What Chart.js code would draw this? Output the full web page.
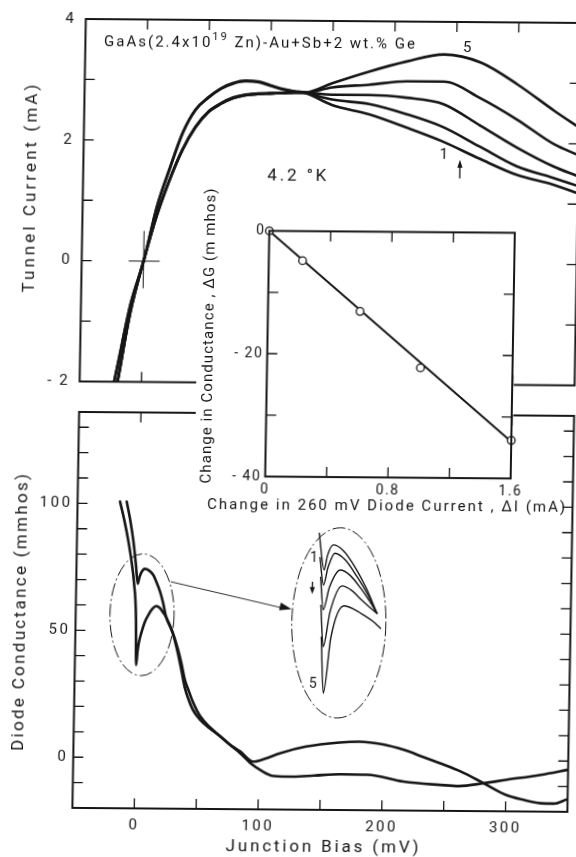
<!DOCTYPE html>
<html>
<head>
<meta charset="utf-8">
<script src="https://cdn.jsdelivr.net/npm/chart.js@4.4.1/dist/chart.umd.min.js"></script>
<style>
  html, body { margin: 0; padding: 0; background: #fff; overflow: hidden; }
  /* the scanned page is slightly skewed; reproduce it on the whole sheet */
  #sheet { position: relative; width: 576px; height: 857px;
           transform: matrix(1, 0.008, -0.017, 1, 0, 0); transform-origin: 72px 808px; }
  #sheet canvas { position: absolute; left: 0; top: 0; }
</style>
</head>
<body>
<div id="sheet">
  <canvas id="topChart" width="576" height="857"></canvas>
  <canvas id="bottomChart" width="576" height="857"></canvas>
  <canvas id="insetChart" width="576" height="857"></canvas>
  <canvas id="magChart" width="576" height="857"></canvas>
</div>
<script>
// ---- top panel: tunnel current (mA) vs junction bias (mV), curves 1..5
const tunnelBias = [-25, -20, -10, 0, 10, 20, 30, 40, 50, 60, 70, 80, 90, 100, 110, 120, 128, 150, 180, 210, 240, 270, 300, 330, 350];
const tunnel1 = [-2.3, -1.77, -0.72, 0, 0.9, 1.55, 2.14, 2.52, 2.72, 2.87, 2.96, 3.0, 2.99, 2.93, 2.87, 2.83, 2.81, 2.61, 2.46, 2.25, 2.02, 1.74, 1.48, 1.32, 1.18];
const tunnel2 = [-2.3, -1.77, -0.72, 0, 0.9, 1.54, 2.13, 2.51, 2.71, 2.86, 2.95, 2.99, 2.98, 2.92, 2.86, 2.83, 2.81, 2.70, 2.63, 2.47, 2.26, 1.94, 1.62, 1.43, 1.30];
const tunnel3 = [-2.6, -2.07, -0.85, 0, 0.76, 1.36, 1.86, 2.23, 2.48, 2.62, 2.72, 2.77, 2.79, 2.80, 2.80, 2.81, 2.81, 2.78, 2.78, 2.74, 2.64, 2.29, 1.93, 1.62, 1.46];
const tunnel4 = [-2.6, -2.07, -0.85, 0, 0.75, 1.35, 1.85, 2.22, 2.47, 2.61, 2.71, 2.76, 2.78, 2.79, 2.80, 2.81, 2.81, 2.90, 2.95, 3.01, 3.01, 2.74, 2.39, 1.99, 1.81];
const tunnel5 = [-2.6, -2.07, -0.85, 0, 0.75, 1.35, 1.85, 2.22, 2.47, 2.61, 2.71, 2.76, 2.78, 2.79, 2.80, 2.81, 2.81, 2.97, 3.17, 3.34, 3.46, 3.33, 2.97, 2.54, 2.27];

// ---- bottom panel: diode conductance (mmhos) vs junction bias (mV)
const bias1 = [-10.3, -7, -4.5, -2, -0.3, 1, 2.5, 5.3, 8.5, 12.2, 15, 17.8, 20.5, 23, 28.5, 33, 36, 39, 42, 46, 52, 60, 68, 76, 85, 95, 101, 112, 128, 145, 166, 188, 217, 247, 262, 282, 300, 328, 350];
const cond1 = [100.8, 93, 85.7, 76, 68.5, 71, 73, 74.4, 73.8, 72, 69, 65.5, 61, 55.7, 49.5, 43, 37.5, 31, 27, 22, 16.5, 12.2, 8.9, 5.5, 2.0, -2.5, -4.4, -6.8, -7, -6.5, -5.9, -6, -8.6, -9.8, -10.2, -9, -7.6, -5.5, -3.4];
const bias5 = [-15.7, -12, -8.6, -5.5, -3.3, -1.2, -0.5, 0.5, 1.5, 3.2, 6, 9, 12, 15, 18, 21, 23, 28.5, 33, 36, 39, 42, 46, 52, 60, 68, 76, 85, 95.5, 105, 117, 138, 165, 181, 200, 217, 232, 246, 263, 282, 300, 314, 328, 339, 349];
const cond5 = [100.8, 93.5, 85.7, 77, 68.8, 54.3, 36.5, 42, 45.5, 49, 53.5, 56.5, 58.7, 59.8, 59, 57, 55.5, 49.5, 41.5, 35, 28, 23.5, 19, 15.1, 11.7, 8.8, 5.6, 2.7, -1.2, 0, 2.2, 4.9, 6.6, 7, 6, 3.9, 1.3, -1.2, -4.4, -9, -13.5, -15.4, -16.7, -16.8, -15.2];

// ---- inset: change in conductance vs change in 260 mV diode current
const deltaCurrent = [0, 0.22, 0.6, 1.0, 1.6];
const deltaConductance = [0, -4.8, -13, -22.1, -33.8];
const fitCurrent = [0, 1.6];
const fitConductance = [0, -34];

// ---- magnified view of the dip near zero bias (curves 1..5)
const mag1Bias = [-2.1, 0.2, 1.5, 3.8, 8, 13, 18, 22.5];
const mag1Cond = [77.1, 67.9, 71.5, 74.2, 72.8, 68.7, 63.2, 57.1];
const mag2Bias = [-1.6, 0, 1.8, 4.6, 9, 14, 18.5, 22.5];
const mag2Cond = [71, 64.1, 68.5, 72.1, 70.4, 66.2, 61.8, 57.1];
const mag3Bias = [-1.2, 0.1, 2.5, 7, 11, 15.5, 19.5, 22.5];
const mag3Cond = [66, 57.9, 63.5, 67.9, 66.6, 63.4, 60, 57.1];
const mag4Bias = [-0.9, 0.3, 3, 7.8, 12, 16, 20, 22.5];
const mag4Cond = [59, 48.6, 57.5, 63.9, 62.7, 60.4, 58.3, 57.1];
const mag5Bias = [-0.5, 0.7, 3.5, 8.8, 13, 17, 21, 24.1];
const mag5Cond = [51, 36.9, 51, 58.9, 58, 56.6, 55, 53.3];

// ---- tick marks and labels
const biasTickMarks = [0, 50, 100, 150, 200, 250, 300];
const biasTickLabels = [0, 100, 200, 300];
const currentTickMarks = [-1, 0, 1, 2, 3];
const condTickMarks = [-10, 0, 10, 20, 30, 40, 50, 60, 70, 80, 90, 100, 110, 120, 130];
const insetCurrentMarks = [0.4, 0.8, 1.2];
const insetCondMarks = [-30, -20, -10];

const W = 576, H = 857;
const INK = '#161616';
const FONT = 'Roboto, "Open Sans", "DejaVu Sans", sans-serif';
const WEIGHT = '400';

Chart.defaults.font.family = FONT;
Chart.defaults.font.weight = WEIGHT;
Chart.defaults.color = INK;

const pts = (xs, ys) => xs.map((x, i) => ({ x, y: ys[i] }));
const minusLabel = (v) => (v < 0 ? "- " + -v : String(v));

function curve(label, data, width) {
    return {
        label: label,
        data: data,
        borderColor: INK,
        borderWidth: width,
        pointRadius: 0,
        fill: false,
        cubicInterpolationMode: "monotone",
        borderCapStyle: "round",
        borderJoinStyle: "round",
    };
}

// chart area in page pixels -> layout padding with fixed axis boxes
function boxLayout(area, yW, xH) {
    return {
        padding: {
            left: area.left - yW,
            top: area.top,
            right: W - area.right,
            bottom: H - area.bottom - xH,
        },
    };
}

function spacing(px) {
    return {
        id: "spacing",
        beforeUpdate(chart) {
            chart.ctx.letterSpacing = px + "px";
        },
    };
}

// lettering stretched to a given length, like the hand lettering of the figure
function spacedText(ctx, parts, cx, cy, length, rotate) {
    ctx.save();
    ctx.letterSpacing = "0px";
    let natural = 0, count = 0;
    parts.forEach((p) => {
        ctx.font = WEIGHT + " " + p.size + "px " + FONT;
        natural += ctx.measureText(p.text).width;
        count += p.text.length;
    });
    const gap = Math.max(0, (length - natural) / Math.max(1, count - 1));
    ctx.letterSpacing = gap + "px";
    ctx.translate(cx, cy);
    if (rotate) ctx.rotate(-Math.PI / 2);
    ctx.textAlign = "left";
    ctx.textBaseline = "middle";
    ctx.fillStyle = INK;
    let x = -length / 2;
    parts.forEach((p) => {
        ctx.font = WEIGHT + " " + p.size + "px " + FONT;
        ctx.fillText(p.text, x, p.dy || 0);
        x += ctx.measureText(p.text).width;
    });
    ctx.restore();
}

// closed frame with inward tick marks on all four sides
function framePlugin(cfg) {
    return {
        id: "frame",
        beforeDraw(chart) {
            if (!cfg.blank) return;
            const ctx = chart.ctx;
            ctx.save();
            ctx.fillStyle = "#fff";
            ctx.fillRect(cfg.blank.left, cfg.blank.top, cfg.blank.right - cfg.blank.left, cfg.blank.bottom - cfg.blank.top);
            ctx.restore();
        },
        afterDatasetsDraw(chart) {
            const { ctx, chartArea: a, scales } = chart;
            ctx.save();
            ctx.strokeStyle = INK;
            ctx.lineWidth = 1.3;
            ctx.beginPath();
            cfg.xTicks.forEach((v) => {
                const p = scales.x.getPixelForValue(v);
                ctx.moveTo(p, a.top);
                ctx.lineTo(p, a.top + cfg.len);
                ctx.moveTo(p, a.bottom);
                ctx.lineTo(p, a.bottom - cfg.len);
            });
            cfg.yTicks.forEach((v) => {
                const p = scales.y.getPixelForValue(v);
                ctx.moveTo(a.left, p);
                ctx.lineTo(a.left + cfg.len, p);
                ctx.moveTo(a.right, p);
                ctx.lineTo(a.right - cfg.len, p);
            });
            ctx.stroke();
            ctx.lineWidth = 2;
            ctx.strokeRect(a.left, a.top, a.right - a.left, a.bottom - a.top);
            ctx.restore();
            (cfg.titles || []).forEach((t) => spacedText(ctx, t.parts, t.x, t.y, t.length, t.rotate));
        },
    };
}

function arrowHead(ctx, x1, y1, x2, y2, len, half) {
    const ang = Math.atan2(y2 - y1, x2 - x1);
    ctx.beginPath();
    ctx.moveTo(x2, y2);
    ctx.lineTo(x2 - len * Math.cos(ang) + half * Math.sin(ang), y2 - len * Math.sin(ang) - half * Math.cos(ang));
    ctx.lineTo(x2 - len * Math.cos(ang) - half * Math.sin(ang), y2 - len * Math.sin(ang) + half * Math.cos(ang));
    ctx.closePath();
    ctx.fill();
}

function dashedEllipse(ctx, cx, cy, rx, ry) {
    ctx.save();
    ctx.lineWidth = 1;
    ctx.setLineDash([13, 3, 2, 3]);
    ctx.beginPath();
    ctx.ellipse(cx, cy, rx, ry, 0, 0, Math.PI * 2);
    ctx.stroke();
    ctx.restore();
}

const topNotes = {
    id: "topNotes",
    afterDatasetsDraw(chart) {
        const { ctx, scales: { x, y } } = chart;
        const px = (v) => x.getPixelForValue(v);
        const py = (v) => y.getPixelForValue(v);
        ctx.save();
        ctx.fillStyle = INK;
        ctx.strokeStyle = INK;

        // cross at the origin
        ctx.lineWidth = 1;
        ctx.beginPath();
        ctx.moveTo(px(-12), py(0));
        ctx.lineTo(px(13), py(0));
        ctx.moveTo(px(0), py(0.5));
        ctx.lineTo(px(0), py(-0.45));
        ctx.stroke();

        ctx.font = WEIGHT + " 15px " + FONT;
        ctx.textAlign = "center";
        ctx.textBaseline = "middle";
        ctx.fillText("5", px(259.4), py(3.57));
        ctx.fillText("1", px(242), py(1.79));

        // arrow under curve 1
        ctx.lineWidth = 1.3;
        ctx.beginPath();
        ctx.moveTo(px(254.3), py(1.41));
        ctx.lineTo(px(254.3), py(1.66));
        ctx.stroke();
        arrowHead(ctx, px(254.3), py(1.41), px(254.3), py(1.72), 8, 2.6);
        ctx.restore();

        // sample description with superscript, and temperature
        spacedText(ctx, [
            { text: "GaAs(2.4x10", size: 15 },
            { text: "19", size: 11, dy: -6 },
            { text: " Zn)-Au+Sb+2 wt.% Ge", size: 15 },
        ], 91 + 311 / 2, 42.5, 311, false);
        spacedText(ctx, [{ text: "4.2 °K", size: 17 }], 286, 175, 59, false);
    },
};

const bottomNotes = {
    id: "bottomNotes",
    afterDatasetsDraw(chart) {
        const { ctx, scales: { x, y } } = chart;
        const px = (v) => x.getPixelForValue(v);
        const py = (v) => y.getPixelForValue(v);
        ctx.save();
        ctx.strokeStyle = INK;
        ctx.fillStyle = INK;
        dashedEllipse(ctx, px(3.6), py(56.3), px(3.6 + 25.9) - px(3.6), py(56.3 - 24) - py(56.3));
        const x1 = px(26.3), y1 = py(69.4), x2 = px(124.4), y2 = py(59);
        ctx.lineWidth = 0.9;
        ctx.beginPath();
        ctx.moveTo(x1, y1);
        ctx.lineTo(x2 - 8, y2 - 0.8);
        ctx.stroke();
        arrowHead(ctx, x1, y1, x2, y2, 12, 4);
        ctx.restore();
    },
};

const magNotes = {
    id: "magNotes",
    afterDatasetsDraw(chart) {
        const { ctx, scales: { x, y } } = chart;
        const px = (v) => x.getPixelForValue(v);
        const py = (v) => y.getPixelForValue(v);
        ctx.save();
        ctx.strokeStyle = INK;
        ctx.fillStyle = INK;
        dashedEllipse(ctx, px(6.7), py(54.6), px(6.7 + 19.6) - px(6.7), py(54.6 - 23.9) - py(54.6));
        ctx.font = WEIGHT + " 14px " + FONT;
        ctx.textAlign = "center";
        ctx.textBaseline = "middle";
        ctx.fillText("1", px(-3.96), py(70.8));
        ctx.fillText("5", px(-3.5), py(39));
        ctx.lineWidth = 1.3;
        ctx.beginPath();
        ctx.moveTo(px(-4.6), py(64.9));
        ctx.lineTo(px(-4.6), py(62.5));
        ctx.stroke();
        arrowHead(ctx, px(-4.6), py(64.9), px(-4.6), py(61.8), 7, 2.6);
        ctx.restore();
    },
};

const common = {
    responsive: false,
    animation: false,
    events: [],
};
const quiet = { legend: { display: false }, tooltip: { enabled: false } };
const noGrid = { display: false, drawTicks: false };

// top panel
const topArea = { left: 72.4, right: 567.4, top: 14, bottom: 381.5 };
new Chart(document.getElementById("topChart"), {
    type: "line",
    data: {
        datasets: [tunnel1, tunnel2, tunnel3, tunnel4, tunnel5].map((c, i) => curve("Curve " + (i + 1), pts(tunnelBias, c), 2.6)),
    },
    options: {
        ...common,
        layout: boxLayout(topArea, 72.4, 0),
        plugins: quiet,
        scales: {
            x: { type: "linear", min: -50, max: 350, display: false },
            y: {
                min: -2,
                max: 4,
                grid: noGrid,
                border: { display: false },
                ticks: { stepSize: 2, padding: 10, font: { size: 15 }, callback: minusLabel },
                afterFit: (s) => { s.width = 72.4; },
            },
        },
    },
    plugins: [
        spacing(2),
        framePlugin({
            xTicks: biasTickMarks,
            yTicks: currentTickMarks,
            len: 10,
            titles: [{ parts: [{ text: "Tunnel Current (mA)", size: 17 }], x: 20.5, y: 189, length: 208, rotate: true }],
        }),
        topNotes,
    ],
});

// bottom panel
const bottomArea = { left: 72.4, right: 567.4, top: 412, bottom: 808 };
new Chart(document.getElementById("bottomChart"), {
    type: "line",
    data: {
        datasets: [curve("Curve 1", pts(bias1, cond1), 2.6), curve("Curve 5", pts(bias5, cond5), 2.6)],
    },
    options: {
        ...common,
        layout: boxLayout(bottomArea, 72.4, 49),
        plugins: quiet,
        scales: {
            x: {
                type: "linear",
                min: -50,
                max: 350,
                grid: noGrid,
                border: { display: false },
                ticks: { stepSize: 50, autoSkip: false, maxRotation: 0, padding: 8, font: { size: 15 },
                         callback: (v) => (biasTickLabels.includes(v) ? String(v) : "") },
                afterFit: (s) => { s.height = 49; },
            },
            y: {
                min: -20,
                max: 136,
                grid: noGrid,
                border: { display: false },
                ticks: { stepSize: 50, includeBounds: false, padding: 5, font: { size: 15 } },
                afterFit: (s) => { s.width = 72.4; },
            },
        },
    },
    plugins: [
        spacing(2.5),
        framePlugin({
            xTicks: biasTickMarks,
            yTicks: condTickMarks,
            len: 10,
            titles: [
                { parts: [{ text: "Diode Conductance (mmhos)", size: 17 }], x: 18, y: 613, length: 277, rotate: true },
                { parts: [{ text: "Junction Bias (mV)", size: 17 }], x: 322.7, y: 846, length: 193, rotate: false },
            ],
        }),
        bottomNotes,
    ],
});

// inset
const insetArea = { left: 259.5, right: 505, top: 229.4, bottom: 475.1 };
new Chart(document.getElementById("insetChart"), {
    type: "line",
    data: {
        datasets: [
            {
                label: "Measured",
                data: pts(deltaCurrent, deltaConductance),
                showLine: false,
                pointRadius: 3.8,
                pointBackgroundColor: "#fff",
                pointBorderColor: INK,
                pointBorderWidth: 1.3,
            },
            {
                label: "Fit",
                data: pts(fitCurrent, fitConductance),
                borderColor: INK,
                borderWidth: 2,
                pointRadius: 0,
                tension: 0,
            },
        ],
    },
    options: {
        ...common,
        clip: false,
        layout: boxLayout(insetArea, 65.6, 37.4),
        plugins: quiet,
        scales: {
            x: {
                type: "linear",
                min: 0,
                max: 1.6,
                grid: noGrid,
                border: { display: false },
                ticks: { stepSize: 0.8, autoSkip: false, maxRotation: 0, padding: 5, font: { size: 14 },
                         callback: (v) => (v === 0 ? "0" : v.toFixed(1)) },
                afterFit: (s) => { s.height = 37.4; },
            },
            y: {
                min: -40,
                max: 0,
                grid: noGrid,
                border: { display: false },
                ticks: { stepSize: 20, padding: 4, font: { size: 14 }, callback: minusLabel },
                afterFit: (s) => { s.width = 65.6; },
            },
        },
    },
    plugins: [
        spacing(1.5),
        framePlugin({
            xTicks: insetCurrentMarks,
            yTicks: insetCondMarks,
            len: 10,
            blank: { left: 189, top: 214, right: 506.5, bottom: 516 },
            titles: [
                { parts: [{ text: "Change in 260 mV Diode Current , ΔI (mA)", size: 15 }], x: 381, y: 504, length: 358, rotate: false },
                { parts: [{ text: "Change in Conductance , ΔG (m mhos)", size: 15 }], x: 201, y: 335, length: 295, rotate: true },
            ],
        }),
    ],
});

// magnified dip (no axes drawn)
const magArea = { left: 312.4, right: 382, top: 519.8, bottom: 718.8 };
new Chart(document.getElementById("magChart"), {
    type: "line",
    data: {
        datasets: [
            curve("1", pts(mag1Bias, mag1Cond), 1.4),
            curve("2", pts(mag2Bias, mag2Cond), 1.4),
            curve("3", pts(mag3Bias, mag3Cond), 1.4),
            curve("4", pts(mag4Bias, mag4Cond), 1.4),
            curve("5", pts(mag5Bias, mag5Cond), 1.4),
        ],
    },
    options: {
        ...common,
        layout: boxLayout(magArea, 0, 0),
        plugins: quiet,
        scales: {
            x: { type: "linear", min: -3, max: 26, display: false },
            y: { min: 30, max: 80, display: false },
        },
    },
    plugins: [spacing(1), magNotes],
});
</script>
</body>
</html>
